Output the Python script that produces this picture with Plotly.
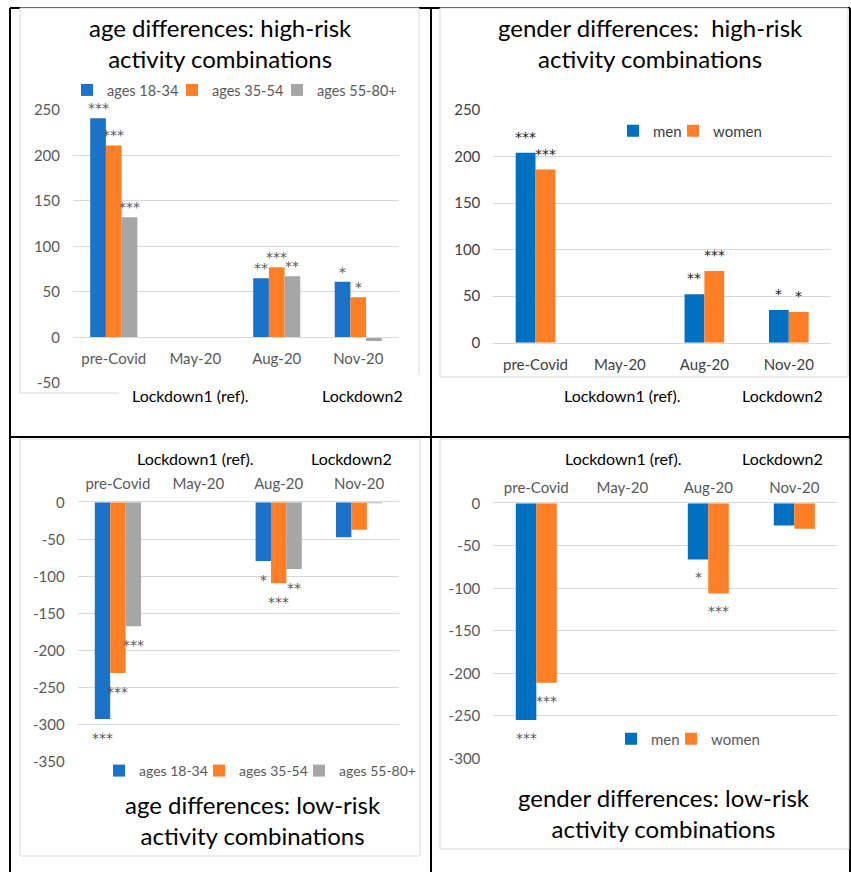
import plotly.graph_objects as go

# ---- data -------------------------------------------------------------
periods = ["pre-Covid", "May-20", "Aug-20", "Nov-20"]

age_groups = ["ages 18-34", "ages 35-54", "ages 55-80+"]
genders = ["men", "women"]

# high-risk activity combinations, difference vs. Lockdown1 (May-20 = ref)
age_high_18_34 = [241, None, 65, 61]
age_high_35_54 = [211, None, 77, 44]
age_high_55_80 = [132, None, 67, -4]
age_high_stars_18_34 = ["***", "", "**", "*"]
age_high_stars_35_54 = ["***", "", "***", "*"]
age_high_stars_55_80 = ["***", "", "**", ""]

gender_high_men = [204, None, 52, 35]
gender_high_women = [186, None, 77, 33]
gender_high_stars_men = ["***", "", "**", "*"]
gender_high_stars_women = ["***", "", "***", "*"]

# low-risk activity combinations
age_low_18_34 = [-292, None, -79, -47]
age_low_35_54 = [-230, None, -109, -37]
age_low_55_80 = [-167, None, -90, -1]
age_low_stars_18_34 = ["***", "", "*", ""]
age_low_stars_35_54 = ["***", "", "***", ""]
age_low_stars_55_80 = ["***", "", "**", ""]

gender_low_men = [-255, None, -66, -26]
gender_low_women = [-211, None, -106, -30]
gender_low_stars_men = ["***", "", "*", ""]
gender_low_stars_women = ["***", "", "***", ""]

# value-axis tick labels
age_high_ticks = ["-50", "0", "50", "100", "150", "200", "250"]
gender_high_ticks = ["0", "50", "100", "150", "200", "250"]
age_low_ticks = ["-350", "-300", "-250", "-200", "-150", "-100", "-50", "0"]
gender_low_ticks = ["-300", "-250", "-200", "-150", "-100", "-50", "0"]

# ---- page geometry ----------------------------------------------------
W, H = 851, 872
FONT = "Lato"
STAR_FONT = "DejaVu Sans"
GRID = "#d9d9d9"


def fx(x):
    return x / W


def fy(y):
    return 1 - y / H


BLUE_A = "#1b72c9"
BLUE_G = "#0070c0"
ORANGE = "#fe7f26"
GRAY = "#a6a6a6"

fig = go.Figure()

panels = [
    dict(ax="", leg="legend", xd=(73, 399), yd=(110, 382.7), yr=(-50, 250),
         ticks=age_high_ticks, side="bottom", catw=81.5, barw=15.7,
         tick="#595959", star="#595959", sh=10, zero=337, standoff=8,
         series=[(age_groups[0], age_high_18_34, age_high_stars_18_34, BLUE_A),
                 (age_groups[1], age_high_35_54, age_high_stars_35_54, ORANGE),
                 (age_groups[2], age_high_55_80, age_high_stars_55_80, GRAY)]),
    dict(ax="2", leg="legend2", xd=(493.3, 831), yd=(110, 342.7), yr=(0, 250),
         ticks=gender_high_ticks, side="bottom", catw=84.4, barw=19.8,
         tick="#404040", star="#1a1a1a", sh=16, zero=None, standoff=8,
         series=[(genders[0], gender_high_men, gender_high_stars_men, BLUE_G),
                 (genders[1], gender_high_women, gender_high_stars_women, ORANGE)]),
    dict(ax="3", leg="legend3", xd=(77.7, 399.3), yd=(502.3, 762), yr=(-350, 0),
         ticks=age_low_ticks, side="top", catw=80.4, barw=15.4,
         tick="#595959", star="#595959", sh=-19, zero=None, standoff=6,
         series=[(age_groups[0], age_low_18_34, age_low_stars_18_34, BLUE_A),
                 (age_groups[1], age_low_35_54, age_low_stars_35_54, ORANGE),
                 (age_groups[2], age_low_55_80, age_low_stars_55_80, GRAY)]),
    dict(ax="4", leg="legend4", xd=(493.3, 837.3), yd=(503.3, 758.3), yr=(-300, 0),
         ticks=gender_low_ticks, side="top", catw=86, barw=20.5,
         tick="#595959", star="#595959", sh=-18, zero=None, standoff=3,
         series=[(genders[0], gender_low_men, gender_low_stars_men, BLUE_G),
                 (genders[1], gender_low_women, gender_low_stars_women, ORANGE)]),
]

annotations = []
for p in panels:
    xa, ya = "x" + p["ax"], "y" + p["ax"]
    n = len(p["series"])
    w = p["barw"] / p["catw"]
    for i, (name, vals, stars, col) in enumerate(p["series"]):
        off = (i - n / 2) * w
        fig.add_trace(go.Bar(
            x=periods, y=vals, name=name, marker=dict(color=col, line=dict(width=0)),
            width=w, offset=off, xaxis=xa, yaxis=ya, legend=p["leg"],
            hoverinfo="skip",
        ))
        for per, v, s in zip(periods, vals, stars):
            if not s:
                continue
            annotations.append(dict(
                x=per, y=v, xref=xa, yref=ya, text=s, showarrow=False,
                xshift=(i - (n - 1) / 2) * p["barw"], yshift=p["sh"],
                yanchor="middle", font=dict(family=STAR_FONT, size=14, color=p["star"]),
            ))
    # transparent spacer entry so the last legend label keeps its full width
    fig.add_trace(go.Bar(x=periods, y=[None] * 4, name="", legend=p["leg"],
                         marker=dict(color="rgba(0,0,0,0)",
                                     line=dict(width=0, color="rgba(0,0,0,0)")),
                         xaxis=xa, yaxis=ya, hoverinfo="skip"))

    xkey = "xaxis" + p["ax"]
    ykey = "yaxis" + p["ax"]
    xaxis = dict(
        domain=[fx(p["xd"][0]), fx(p["xd"][1])], type="category",
        range=[-0.5, 3.5], side=p["side"], showgrid=False, zeroline=False,
        showline=True, linecolor=GRID, linewidth=1, ticks="",
        tickfont=dict(family=FONT, size=15, color=p["tick"]),
        ticklabelstandoff=p["standoff"], fixedrange=True, automargin=False,
    )
    if p["zero"] is not None:
        xaxis.update(anchor="free", position=fy(p["zero"]))
    else:
        xaxis.update(anchor=ya)
    fig.layout[xkey] = xaxis
    fig.layout[ykey] = dict(
        domain=[fy(p["yd"][1]), fy(p["yd"][0])], range=list(p["yr"]),
        tickmode="array", tickvals=[int(t) for t in p["ticks"]], ticktext=p["ticks"],
        showgrid=True, gridcolor=GRID, gridwidth=1,
        zeroline=False, showline=False, anchor=xa, ticks="",
        tickfont=dict(family=FONT, size=15, color=p["tick"]),
        ticklabelstandoff=12, fixedrange=True, automargin=False,
    )

# legends
leg_common = dict(orientation="h", xanchor="left", yanchor="middle",
                  bgcolor="rgba(0,0,0,0)", borderwidth=0, entrywidthmode="pixels",
                  itemclick=False, itemdoubleclick=False)
fig.update_layout(
    legend=dict(x=fx(67), y=fy(90), entrywidth=60,
                font=dict(family=FONT, size=14.5, color="#595959"), **leg_common),
    legend2=dict(x=fx(613), y=fy(131), entrywidth=15,
                 font=dict(family=FONT, size=15, color="#404040"), **leg_common),
    legend3=dict(x=fx(99), y=fy(771), entrywidth=55,
                 font=dict(family=FONT, size=14, color="#595959"), **leg_common),
    legend4=dict(x=fx(611), y=fy(739), entrywidth=15,
                 font=dict(family=FONT, size=15, color="#595959"), **leg_common),
)

# chart titles
titles = [
    ("age differences: high-risk<br>activity combinations", 220.5, 43),
    ("gender differences:  high-risk<br>activity combinations", 650.5, 43),
    ("age differences: low-risk<br>activity combinations", 253, 820),
    ("gender differences: low-risk<br>activity combinations", 664.2, 813),
]
for t, x, y in titles:
    annotations.append(dict(text=t, x=fx(x), y=fy(y), xref="paper", yref="paper",
                            showarrow=False, xanchor="center", yanchor="middle",
                            font=dict(family=FONT, size=24, color="#000000")))

# period captions
captions = [
    ("Lockdown1 (ref).", 190.8, 395), ("Lockdown2", 362, 395),
    ("Lockdown1 (ref).", 622.5, 395), ("Lockdown2", 782, 395),
    ("Lockdown1 (ref).", 195, 458.3), ("Lockdown2", 351.2, 458.3),
    ("Lockdown1 (ref).", 623, 458.3), ("Lockdown2", 782.8, 458.3),
]
for t, x, y in captions:
    annotations.append(dict(text=t, x=fx(x), y=fy(y), xref="paper", yref="paper",
                            showarrow=False, xanchor="center", yanchor="middle",
                            font=dict(family=FONT, size=16, color="#000000")))

# table frame and chart boxes
shapes = []
for x0, y0, x1, y1 in [(10, 8, 10, 872), (431, 8, 431, 872), (850, 8, 850, 872),
                       (10, 8, 850, 8), (10, 437, 850, 437)]:
    shapes.append(dict(type="line", xref="paper", yref="paper", x0=fx(x0), x1=fx(x1),
                       y0=fy(y0), y1=fy(y1), line=dict(color="#000000", width=2),
                       layer="below"))
for x0, y0, x1, y1 in [(20, 8, 419, 393), (440, 8, 848, 377),
                       (20, 439, 420, 856), (440, 439, 849, 849)]:
    shapes.append(dict(type="rect", xref="paper", yref="paper", x0=fx(x0), x1=fx(x1),
                       y0=fy(y1), y1=fy(y0), line=dict(color=GRID, width=1),
                       fillcolor="#ffffff", layer="below"))
# caption box laid over the lower edge of the first chart
shapes.append(dict(type="rect", xref="paper", yref="paper", x0=fx(119), x1=fx(430),
                   y0=fy(415), y1=fy(375), line=dict(width=0), fillcolor="#ffffff",
                   layer="above"))

fig.update_layout(
    width=W, height=H, margin=dict(l=0, r=0, t=0, b=0, pad=0, autoexpand=False),
    paper_bgcolor="#ffffff", plot_bgcolor="rgba(0,0,0,0)",
    barmode="overlay", showlegend=True,
    annotations=annotations, shapes=shapes,
    font=dict(family=FONT),
)

fig.write_html("out.html")
